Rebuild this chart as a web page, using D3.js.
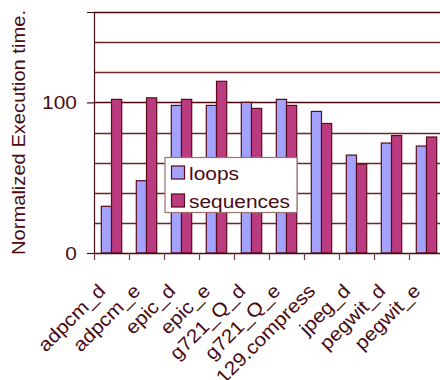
<!DOCTYPE html>
<html>
<head>
<meta charset="utf-8">
<script src="https://cdn.jsdelivr.net/npm/d3@7"></script>
<style>
  html, body { margin: 0; padding: 0; background: #fff; }
  svg { display: block; font-family: "Liberation Sans", Arial, sans-serif; }
</style>
</head>
<body>
<svg id="chart" width="440" height="380"></svg>
<script>
// Benchmarks and normalized execution times (baseline = 100)
const categories = ["adpcm_d", "adpcm_e", "epic_d", "epic_e", "g721_Q_d", "g721_Q_e",
                    "129.compress", "jpeg_d", "pegwit_d", "pegwit_e"];
const seriesNames = ["loops", "sequences"];
const loops     = [31, 48, 98, 98, 100, 102, 94, 65, 73, 71];
const sequences = [102, 103, 102, 114, 96, 98, 86, 59, 78, 77];
const yTickLabels = [0, 100];
const gridValues = [20, 40, 60, 80, 100, 120, 140, 160];

const colors = { loops: "#a3a3fd", sequences: "#bb3b80" };
const ink = "#4a0a12";
const FS = 19;          // label font size
const WIDEN = 1.1;      // horizontal stretch of the label face

const svg = d3.select("#chart");
const m = { left: 94, top: 12, right: -4, bottom: 127 };
const W = 440, H = 380;
const innerW = W - m.left - m.right;
const innerH = H - m.top - m.bottom;

const g = svg.append("g").attr("transform", `translate(${m.left},${m.top})`);

const x = d3.scaleBand().domain(categories).range([0, innerW]).paddingInner(0).paddingOuter(0);
const xs = d3.scaleBand().domain(seriesNames).range([7.3, x.bandwidth() - 7.3]);
const y = d3.scaleLinear().domain([0, 160]).range([innerH, 0]);

// horizontal gridlines
g.selectAll("line.grid").data(gridValues).join("line")
  .attr("class", "grid")
  .attr("x1", 0).attr("x2", innerW)
  .attr("y1", d => Math.round(y(d)) + 0.5).attr("y2", d => Math.round(y(d)) + 0.5)
  .attr("stroke", d => (d === 100 || d === 160) ? "#4a0812" : "#6b2626")
  .attr("stroke-width", d => (d === 100 || d === 160) ? 1.5 : 1.3);

// bars
const rows = categories.map((c, i) => ({ c, loops: loops[i], sequences: sequences[i] }));
const grp = g.selectAll("g.bench").data(rows).join("g")
  .attr("class", "bench")
  .attr("transform", d => `translate(${x(d.c)},0)`);
grp.selectAll("rect").data(d => seriesNames.map(k => ({ k, v: d[k] }))).join("rect")
  .attr("x", d => xs(d.k))
  .attr("width", xs.bandwidth())
  .attr("y", d => y(d.v))
  .attr("height", d => y(0) - y(d.v))
  .attr("fill", d => colors[d.k])
  .attr("stroke", "#5a0a1a")
  .attr("stroke-width", 1.2);

// y axis
const yAxis = d3.axisLeft(y).tickValues(yTickLabels).tickSize(7).tickPadding(0).tickFormat(d3.format("d"));
const ya = g.append("g").call(yAxis);
ya.select(".domain").attr("stroke", ink).attr("stroke-width", 1.2);
ya.selectAll(".tick line").attr("stroke", ink).attr("stroke-width", 1.2);
ya.selectAll(".tick text")
  .attr("x", null)
  .attr("transform", `translate(-17,0) scale(${WIDEN},1)`)
  .attr("fill", ink).attr("font-size", FS)
  .attr("font-family", "Liberation Sans, Arial, sans-serif");

// x axis with ticks on category boundaries
const bounds = categories.map(c => x(c));
const xa = g.append("g").attr("transform", `translate(0,${innerH})`);
xa.append("line").attr("x1", 0).attr("x2", innerW).attr("y1", 0.5).attr("y2", 0.5)
  .attr("stroke", ink).attr("stroke-width", 1.5);
xa.selectAll("line.tk").data(bounds).join("line")
  .attr("class", "tk")
  .attr("x1", d => d + 0.5).attr("x2", d => d + 0.5)
  .attr("y1", 0).attr("y2", 7)
  .attr("stroke", "#7a3a3a").attr("stroke-width", 1.2);
xa.selectAll("text").data(categories).join("text")
  .attr("transform", d => `translate(${x(d) + x.bandwidth() / 2 - 5},${39}) rotate(-45) scale(${WIDEN},1)`)
  .attr("text-anchor", "end")
  .attr("fill", ink)
  .attr("font-size", FS)
  .text(d => d);

// y axis title
svg.append("text")
  .attr("transform", `translate(25,${m.top + innerH / 2}) rotate(-90)`)
  .attr("text-anchor", "middle")
  .attr("fill", ink)
  .attr("font-size", FS)
  .attr("textLength", 245)
  .attr("lengthAdjust", "spacingAndGlyphs")
  .text("Normalized Execution time.");

// legend
const lg = svg.append("g").attr("transform", "translate(165,157.5)");
lg.append("rect").attr("width", 132).attr("height", 55)
  .attr("fill", "#fff").attr("stroke", "#9a7070").attr("stroke-width", 1.2);
seriesNames.forEach((k, i) => {
  lg.append("rect").attr("x", 6.5).attr("y", 8.5 + i * 28).attr("width", 13).attr("height", 13)
    .attr("fill", colors[k]).attr("stroke", "#5a0a1a").attr("stroke-width", 1.2);
  lg.append("text")
    .attr("transform", `translate(24,${22.5 + i * 27.5}) scale(${WIDEN},1)`)
    .attr("fill", ink).attr("font-size", FS)
    .text(k);
});
</script>
</body>
</html>
